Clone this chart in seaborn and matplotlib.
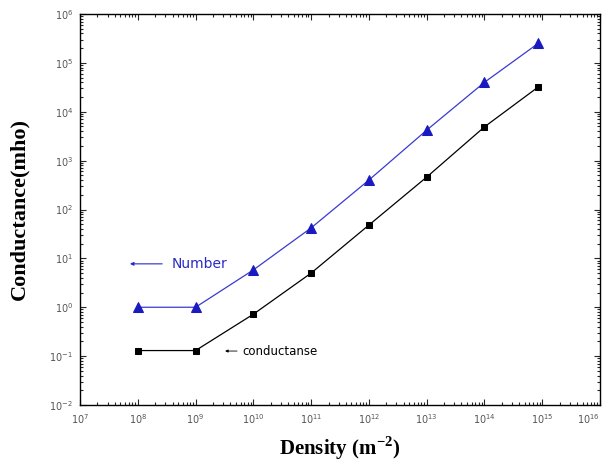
import numpy as np
import pandas as pd
import seaborn as sns
import matplotlib.pyplot as plt
from matplotlib.ticker import LogLocator, LogFormatterMathtext

sns.set_style("ticks")

density = [1e8, 1e9, 1e10, 1e11, 1e12, 1e13, 1e14, 8.5e14]
number = [1.0, 1.0, 5.8, 42, 400, 4200, 4.0e4, 2.5e5]
conductance = [0.13, 0.13, 0.72, 5.0, 48, 460, 4900, 3.2e4]

df = pd.DataFrame({'density': density, 'number': number, 'conductance': conductance})

fig = plt.figure(figsize=(6.05, 4.65), dpi=100)
ax = fig.add_axes([80 / 605, 60 / 465, 520 / 605, 391 / 465])

sns.lineplot(data=df, x='density', y='number', ax=ax, color='#3a3ad0', lw=0.9,
             marker='^', markersize=7, markeredgecolor='#1a1ac0', markerfacecolor='#1a1ac0')
sns.lineplot(data=df, x='density', y='conductance', ax=ax, color='black', lw=0.9,
             marker='s', markersize=4.5, markeredgecolor='black', markerfacecolor='black')

ax.set_xscale('log')
ax.set_yscale('log')
ax.set_xlim(1e7, 1e16)
ax.set_ylim(1e-2, 1e6)

for axis in (ax.xaxis, ax.yaxis):
    axis.set_major_locator(LogLocator(base=10, numticks=20))
    axis.set_minor_locator(LogLocator(base=10, subs=np.arange(2, 10), numticks=20))
    axis.set_major_formatter(LogFormatterMathtext())

ax.tick_params(which='both', direction='in', top=True, right=True, width=0.8)
ax.tick_params(which='major', length=4, labelsize=7, labelcolor='#555555', pad=5)
ax.tick_params(which='minor', length=2)
for s in ax.spines.values():
    s.set_linewidth(1.0)
    s.set_color('black')

ax.set_xlabel('Density (m$^{\\mathregular{-2}}$)', family='Liberation Serif', fontweight='bold',
              fontsize=15, color='black', labelpad=6)
ax.set_ylabel('Conductance(mho)', family='Liberation Serif', fontweight='bold',
              fontsize=16, color='black', labelpad=14)

# labels with small arrows pointing left
ax.annotate('', xy=(0.096, 0.361), xycoords='axes fraction',
            xytext=(0.158, 0.361), textcoords='axes fraction',
            arrowprops=dict(arrowstyle='-|>', color='#2a2ac8', lw=0.8, mutation_scale=5,
                            shrinkA=0, shrinkB=0))
ax.text(0.177, 0.361, 'Number', transform=ax.transAxes, va='center',
        color='#2a2ac8', fontsize=10)
ax.annotate('', xy=(0.279, 0.138), xycoords='axes fraction',
            xytext=(0.302, 0.138), textcoords='axes fraction',
            arrowprops=dict(arrowstyle='-|>', color='black', lw=0.6, mutation_scale=4,
                            shrinkA=0, shrinkB=0))
ax.text(0.312, 0.138, 'conductanse', transform=ax.transAxes, va='center',
        color='black', fontsize=8.5)

fig.canvas.draw()
# keep the last x label inside the figure
for t in ax.xaxis.get_major_ticks():
    if np.isclose(t.get_loc(), 1e16):
        t.label1.set_horizontalalignment('right')

fig.savefig('out.png', dpi=100)
